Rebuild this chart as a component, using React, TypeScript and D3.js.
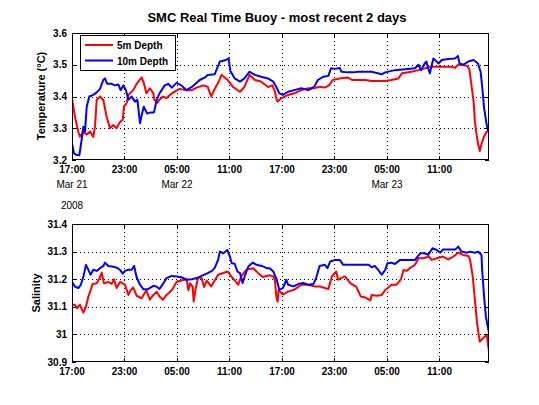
import React from "react";
import * as d3 from "d3";

// hours after Mar 21 2008 17:00
const temp5m: [number, number][] = [[0,3.394],[0.34,3.336],[0.72,3.289],[0.91,3.273],[1.3,3.29],[1.68,3.28],[2.06,3.29],[2.43,3.273],[2.63,3.305],[2.82,3.389],[3.2,3.40],[3.58,3.389],[3.96,3.336],[4.34,3.30],[4.72,3.31],[5.1,3.30],[5.49,3.32],[5.8,3.327],[5.94,3.368],[6.25,3.38],[6.44,3.405],[7.0,3.42],[7.39,3.44],[7.96,3.46],[8.2,3.443],[8.5,3.41],[8.9,3.426],[9.3,3.41],[9.4,3.39],[9.75,3.38],[10.0,3.39],[10.4,3.40],[10.8,3.395],[11.2,3.405],[11.6,3.413],[12.3,3.424],[13.1,3.42],[13.7,3.42],[14.25,3.428],[15.0,3.435],[15.5,3.431],[15.9,3.40],[16.3,3.424],[16.7,3.443],[17.1,3.468],[17.8,3.452],[18.4,3.43],[19.2,3.415],[19.7,3.43],[20.3,3.468],[20.9,3.452],[21.6,3.447],[22.4,3.43],[22.9,3.435],[23.2,3.415],[23.35,3.394],[23.5,3.384],[23.9,3.394],[24.7,3.405],[25.4,3.41],[26.2,3.42],[27.0,3.426],[27.7,3.426],[28.3,3.431],[28.9,3.428],[29.4,3.436],[29.8,3.452],[30.6,3.457],[31.5,3.46],[32.0,3.452],[32.7,3.452],[33.5,3.452],[34.25,3.449],[35.0,3.449],[35.8,3.449],[36.5,3.452],[37.3,3.457],[37.7,3.473],[38.8,3.478],[39.6,3.483],[40.3,3.488],[41.1,3.494],[41.9,3.494],[42.6,3.494],[43.4,3.494],[43.8,3.49],[44.15,3.501],[44.5,3.5],[45.1,3.497],[45.4,3.488],[45.6,3.447],[45.9,3.384],[46.05,3.32],[46.25,3.278],[46.4,3.253],[46.6,3.228],[46.8,3.25],[47.1,3.275],[47.4,3.289],[47.66,3.295]];

const temp10m: [number, number][] = [[0,3.253],[0.23,3.221],[0.53,3.216],[0.84,3.215],[1.1,3.263],[1.3,3.305],[1.49,3.29],[1.68,3.368],[1.98,3.40],[2.43,3.405],[2.82,3.413],[3.2,3.424],[3.58,3.452],[3.77,3.457],[4.03,3.44],[4.53,3.44],[4.9,3.435],[5.3,3.438],[5.56,3.42],[5.87,3.435],[6.17,3.42],[6.44,3.39],[6.82,3.40],[7.2,3.384],[7.47,3.39],[7.77,3.316],[7.96,3.34],[8.2,3.368],[8.6,3.346],[9.0,3.35],[9.37,3.35],[9.68,3.39],[10.0,3.41],[10.6,3.435],[11.0,3.44],[11.4,3.428],[11.95,3.443],[12.5,3.435],[13.1,3.42],[13.7,3.43],[14.25,3.443],[14.6,3.452],[15.2,3.46],[15.5,3.468],[16.3,3.47],[16.9,3.51],[17.6,3.515],[17.9,3.52],[18.1,3.48],[18.6,3.457],[19.2,3.447],[19.7,3.457],[20.3,3.478],[20.9,3.468],[21.6,3.462],[22.4,3.457],[23.0,3.447],[23.35,3.43],[23.7,3.41],[24.1,3.405],[24.7,3.415],[25.4,3.42],[26.2,3.426],[27.0,3.42],[27.7,3.431],[28.1,3.452],[28.7,3.462],[29.3,3.465],[29.6,3.489],[30.0,3.487],[30.6,3.49],[30.8,3.478],[31.5,3.476],[32.1,3.476],[32.7,3.478],[34.25,3.478],[35.4,3.47],[35.8,3.476],[36.9,3.483],[38.1,3.486],[39.2,3.489],[39.6,3.5],[39.9,3.483],[40.3,3.504],[40.5,3.51],[40.7,3.489],[40.9,3.473],[41.3,3.52],[41.9,3.504],[42.25,3.515],[43.0,3.518],[43.8,3.52],[44.1,3.528],[44.3,3.504],[44.7,3.50],[45.3,3.51],[45.9,3.515],[46.4,3.504],[46.7,3.478],[46.9,3.426],[47.1,3.363],[47.4,3.31],[47.66,3.285]];

const sal5m: [number, number][] = [[0,31.107],[0.34,31.107],[0.6,31.095],[0.91,31.107],[1.3,31.079],[1.6,31.1],[1.87,31.137],[2.13,31.16],[2.36,31.183],[2.82,31.185],[3.2,31.207],[3.39,31.224],[3.66,31.185],[4.15,31.19],[4.53,31.183],[4.8,31.2],[5.1,31.168],[5.49,31.19],[6.06,31.18],[6.44,31.143],[6.7,31.16],[7.0,31.17],[7.39,31.14],[7.96,31.131],[8.5,31.16],[8.9,31.126],[9.3,31.143],[9.68,31.155],[10.0,31.137],[10.4,31.126],[10.8,31.143],[11.4,31.16],[11.95,31.19],[12.5,31.195],[13.1,31.2],[13.3,31.16],[13.5,31.185],[13.8,31.172],[13.9,31.119],[14.1,31.16],[14.4,31.205],[14.8,31.205],[15.1,31.172],[15.4,31.195],[15.9,31.174],[16.7,31.216],[17.8,31.228],[18.2,31.21],[19.0,31.18],[19.35,31.21],[19.9,31.234],[20.7,31.24],[21.3,31.222],[21.8,31.208],[22.6,31.214],[23.0,31.21],[23.2,31.195],[23.35,31.137],[23.5,31.119],[23.6,31.16],[24.1,31.144],[24.7,31.155],[25.4,31.162],[26.2,31.18],[27.0,31.18],[27.7,31.174],[28.3,31.174],[28.9,31.168],[29.3,31.164],[29.7,31.21],[30.2,31.228],[30.4,31.198],[30.8,31.205],[31.2,31.21],[31.8,31.186],[32.5,31.172],[33.0,31.137],[33.5,31.134],[34.1,31.123],[34.25,31.143],[34.8,31.14],[35.4,31.143],[35.8,31.161],[36.1,31.168],[36.5,31.18],[37.1,31.18],[37.6,31.2],[37.9,31.234],[38.25,31.23],[38.6,31.24],[39.2,31.252],[39.6,31.276],[40.15,31.276],[40.8,31.282],[41.1,31.27],[41.7,31.276],[42.4,31.282],[43.0,31.272],[43.6,31.282],[44.15,31.296],[44.7,31.288],[45.3,31.284],[45.5,31.27],[45.8,31.21],[46.05,31.125],[46.3,31.04],[46.6,30.974],[47.0,30.987],[47.4,30.999],[47.66,30.938]];

const sal10m: [number, number][] = [[0,31.191],[0.34,31.173],[0.72,31.168],[1.0,31.179],[1.3,31.21],[1.6,31.252],[1.87,31.234],[2.13,31.216],[2.43,31.234],[2.82,31.23],[3.2,31.24],[3.58,31.248],[3.77,31.26],[4.15,31.248],[4.72,31.245],[5.1,31.242],[5.49,31.234],[5.8,31.22],[6.06,31.23],[6.44,31.234],[6.82,31.234],[7.1,31.248],[7.39,31.207],[7.77,31.18],[8.15,31.164],[8.7,31.164],[9.3,31.176],[9.68,31.173],[9.98,31.164],[10.4,31.183],[10.8,31.204],[11.4,31.212],[11.95,31.21],[12.5,31.207],[13.1,31.198],[13.7,31.2],[14.25,31.204],[14.8,31.212],[15.4,31.22],[16.0,31.23],[16.3,31.24],[16.7,31.27],[16.9,31.3],[17.3,31.294],[17.75,31.306],[18.05,31.282],[18.25,31.258],[18.6,31.256],[18.9,31.228],[19.2,31.222],[19.5,31.186],[19.8,31.216],[20.15,31.246],[20.65,31.26],[21.1,31.252],[21.7,31.248],[22.25,31.24],[22.6,31.24],[23.0,31.228],[23.4,31.198],[23.7,31.161],[24.1,31.168],[24.5,31.198],[24.7,31.18],[25.3,31.174],[25.9,31.183],[26.4,31.186],[27.0,31.18],[27.6,31.183],[27.9,31.204],[28.3,31.248],[28.9,31.252],[29.2,31.24],[29.5,31.264],[30.1,31.27],[30.6,31.27],[31.0,31.252],[31.8,31.252],[32.5,31.252],[33.3,31.252],[33.9,31.252],[34.25,31.243],[34.6,31.248],[35.0,31.234],[35.4,31.216],[35.8,31.234],[36.05,31.258],[36.5,31.26],[36.9,31.255],[37.5,31.27],[38.1,31.27],[38.6,31.27],[39.2,31.27],[39.5,31.282],[39.8,31.294],[40.3,31.294],[40.7,31.288],[41.2,31.312],[41.7,31.306],[42.1,31.296],[42.4,31.308],[43.2,31.308],[43.8,31.308],[44.15,31.318],[44.5,31.3],[45.1,31.296],[45.5,31.3],[46.05,31.296],[46.4,31.3],[46.8,31.288],[46.9,31.222],[47.1,31.137],[47.3,31.065],[47.66,31.005]];

const tempTicks = [3.2, 3.3, 3.4, 3.5, 3.6];
const salTicks = [30.9, 31, 31.1, 31.2, 31.3, 31.4];
const timeTickHours = [0, 6, 12, 18, 24, 30, 36, 42];
const dateLabels: [number, string][] = [[0, "Mar 21"], [12, "Mar 22"], [36, "Mar 23"]];
const yearLabel = "2008";
const titleText = "SMC Real Time Buoy - most recent 2 days";
const seriesNames = ["5m Depth", "10m Depth"];
const seriesColors = ["#ff0000", "#0000ff"];
const startTime = new Date(2008, 2, 21, 17, 0, 0);
const spanHours = 47.66;

const toDate = (h: number) => new Date(startTime.getTime() + h * 3600e3);
const FONT = "'Liberation Sans', Arial, Helvetica, sans-serif";

const X0 = 72, X1 = 489;

function Panel(props: {
  top: number; bottom: number; domain: [number, number]; ticks: number[];
  series: [number, number][][]; id: string;
}) {
  const { top, bottom, domain, ticks, series, id } = props;
  const x = d3.scaleTime().domain([startTime, toDate(spanHours)]).range([X0, X1]);
  const y = d3.scaleLinear().domain(domain).range([bottom, top]);
  const fmt = d3.timeFormat("%H:%M");
  const line = d3.line<[number, number]>().x(d => x(toDate(d[0]))).y(d => y(d[1]));
  const tickDates = timeTickHours.map(toDate);
  return (
    <g>
      <defs>
        <clipPath id={id}>
          <rect x={X0} y={top} width={X1 - X0} height={bottom - top} />
        </clipPath>
      </defs>
      <rect x={X0} y={top} width={X1 - X0} height={bottom - top} fill="#fff" />
      {ticks.slice(1, -1).map(t => (
        <line key={"gy" + t} x1={X0} x2={X1} y1={Math.round(y(t)) + 0.5} y2={Math.round(y(t)) + 0.5}
          stroke="#000" strokeWidth={1} strokeDasharray="1 3" />
      ))}
      {tickDates.slice(1).map((d, i) => (
        <line key={"gx" + i} x1={Math.round(x(d)) + 0.5} x2={Math.round(x(d)) + 0.5} y1={top} y2={bottom}
          stroke="#000" strokeWidth={1} strokeDasharray="1 3" />
      ))}
      <g clipPath={`url(#${id})`}>
        {series.map((s, i) => (
          <path key={i} d={line(s) || ""} fill="none" stroke={seriesColors[i]} strokeWidth={2} strokeLinejoin="round" />
        ))}
      </g>
      {ticks.map(t => (
        <g key={"ty" + t}>
          <line x1={X0} x2={X0 + 4} y1={Math.round(y(t)) + 0.5} y2={Math.round(y(t)) + 0.5} stroke="#000" />
          <line x1={X1 - 4} x2={X1} y1={Math.round(y(t)) + 0.5} y2={Math.round(y(t)) + 0.5} stroke="#000" />
          <text x={67} y={y(t) + 3.5} textAnchor="end" fontFamily={FONT} fontWeight="bold" fontSize={10}>{String(t)}</text>
        </g>
      ))}
      {tickDates.map((d, i) => (
        <g key={"tx" + i}>
          <line x1={Math.round(x(d)) + 0.5} x2={Math.round(x(d)) + 0.5} y1={bottom} y2={bottom - 4} stroke="#000" />
          <line x1={Math.round(x(d)) + 0.5} x2={Math.round(x(d)) + 0.5} y1={top} y2={top + 4} stroke="#000" />
          <text x={x(d)} y={bottom + 13} textAnchor="middle" fontFamily={FONT} fontWeight="bold" fontSize={10}>{fmt(d)}</text>
        </g>
      ))}
      <rect x={X0 + 0.5} y={top + 0.5} width={X1 - X0 - 1} height={bottom - top - 1} fill="none" stroke="#000" strokeWidth={1} />
    </g>
  );
}

export default function App() {
  const xDate = d3.scaleTime().domain([startTime, toDate(spanHours)]).range([X0, X1]);
  return (
    <svg width={539} height={405} style={{ position: "absolute", left: 0, top: 0, background: "#fff" }}>
      <rect width={539} height={405} fill="#fff" />
      <text x={277} y={22} textAnchor="middle" fontFamily={FONT} fontWeight="bold" fontSize={13}>{titleText}</text>
      <Panel id="c1" top={33} bottom={160} domain={[3.2, 3.6]} ticks={tempTicks} series={[temp5m, temp10m]} />
      <Panel id="c2" top={224} bottom={362} domain={[30.9, 31.4]} ticks={salTicks} series={[sal5m, sal10m]} />
      {dateLabels.map(([h, s]) => (
        <text key={s} x={xDate(toDate(h))} y={188} textAnchor="middle" fontFamily={FONT} fontSize={10}>{s}</text>
      ))}
      <text x={72} y={209} textAnchor="middle" fontFamily={FONT} fontSize={10}>{yearLabel}</text>
      <text transform="translate(45,96) rotate(-90)" textAnchor="middle" fontFamily={FONT} fontWeight="bold" fontSize={11}>Temperature (°C)</text>
      <text transform="translate(40,293) rotate(-90)" textAnchor="middle" fontFamily={FONT} fontWeight="bold" fontSize={11}>Salinity</text>
      <g>
        <rect x={80.5} y={35.5} width={95} height={35} fill="#fff" stroke="#000" />
        {seriesNames.map((n, i) => (
          <g key={n}>
            <line x1={85} x2={113} y1={45 + i * 15.5} y2={45 + i * 15.5} stroke={seriesColors[i]} strokeWidth={2} />
            <text x={117} y={49 + i * 15.5} fontFamily={FONT} fontWeight="bold" fontSize={10}>{n}</text>
          </g>
        ))}
      </g>
    </svg>
  );
}
